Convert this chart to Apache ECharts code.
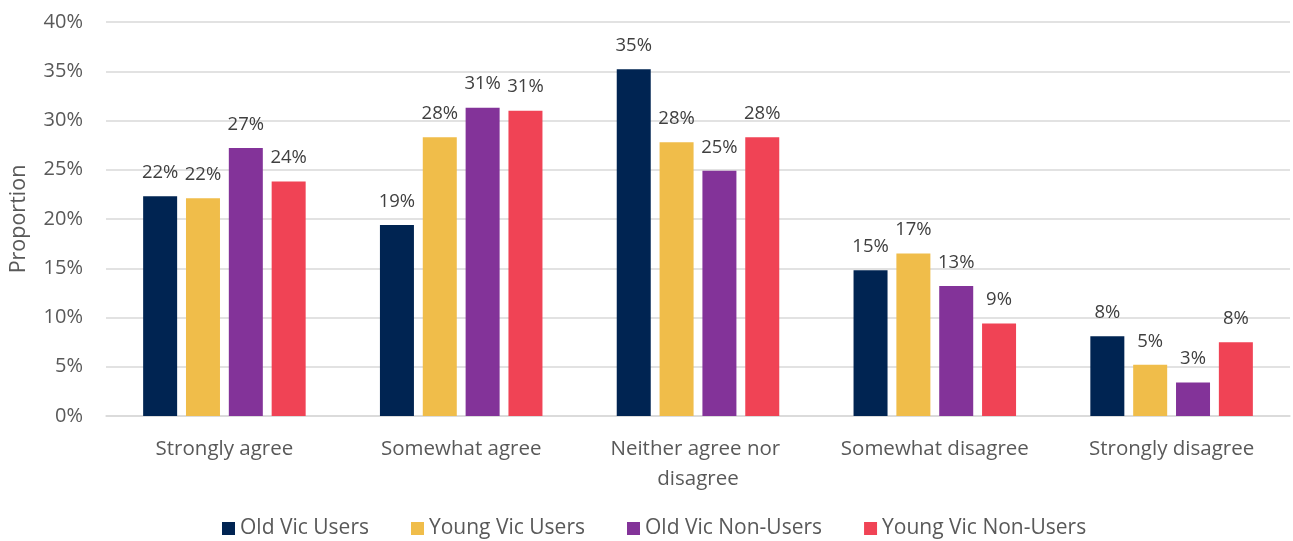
<!DOCTYPE html>
<html>
<head>
<meta charset="utf-8">
<script src="https://cdn.jsdelivr.net/npm/echarts@6/dist/echarts.min.js"></script>
<style>
  html, body { margin: 0; padding: 0; background: #ffffff; }
  #chart { width: 1293px; height: 541px; }
</style>
</head>
<body>
<div id="chart"></div>
<script>
// Response categories along the x axis
const categories = ['Strongly agree', 'Somewhat agree', 'Neither agree nor disagree', 'Somewhat disagree', 'Strongly disagree'];

// Share of respondents in each group (percent)
const oldVicUsers      = [22.3, 19.4, 35.2, 14.8, 8.1];
const youngVicUsers    = [22.1, 28.3, 27.8, 16.5, 5.2];
const oldVicNonUsers   = [27.2, 31.3, 24.9, 13.2, 3.4];
const youngVicNonUsers = [23.8, 31.0, 28.3, 9.4, 7.5];

const seriesNames = ['Old Vic Users', 'Young Vic Users', 'Old Vic Non-Users', 'Young Vic Non-Users'];
const seriesData = [oldVicUsers, youngVicUsers, oldVicNonUsers, youngVicNonUsers];
const colors = ['#002452', '#F0BD4A', '#833399', '#F04355'];

const FONT = '"Open Sans", "Liberation Sans", sans-serif';

const chart = echarts.init(document.getElementById('chart'), null, { renderer: 'canvas' });

chart.setOption({
  animation: false,
  color: colors,
  textStyle: { fontFamily: FONT },
  grid: { left: 104, right: 3, top: 22, bottom: 125, containLabel: false },
  legend: {
    bottom: -3,
    left: 217,
    itemWidth: 13,
    itemHeight: 13,
    itemGap: 42,
    icon: 'rect',
    textStyle: { fontFamily: FONT, fontSize: 21, color: '#595959' },
    data: seriesNames
  },
  xAxis: {
    type: 'category',
    data: categories,
    axisLine: { show: true, lineStyle: { color: '#d9d9d9', width: 1.5 } },
    axisTick: { show: false },
    axisLabel: {
      interval: 0,
      margin: 18,
      fontFamily: FONT,
      fontSize: 20.5,
      color: '#595959',
      lineHeight: 30,
      width: 220,
      overflow: 'break'
    }
  },
  yAxis: {
    type: 'value',
    min: 0,
    max: 40,
    interval: 5,
    name: 'Proportion',
    nameLocation: 'middle',
    nameGap: 76,
    nameTextStyle: { fontFamily: FONT, fontSize: 21.5, color: '#595959' },
    axisLine: { show: false },
    axisTick: { show: false },
    axisLabel: {
      margin: 23,
      fontFamily: FONT,
      fontSize: 20,
      color: '#595959',
      formatter: v => v + '%'
    },
    splitLine: { lineStyle: { color: '#d9d9d9', width: 1.5 } }
  },
  series: seriesNames.map((name, i) => ({
    name: name,
    type: 'bar',
    data: seriesData[i],
    barWidth: 34,
    barGap: '26%',
    label: {
      show: true,
      position: 'top',
      distance: 14,
      fontFamily: FONT,
      fontSize: 18.5,
      color: '#404040',
      formatter: p => Math.round(p.value) + '%'
    }
  }))
});
</script>
</body>
</html>
